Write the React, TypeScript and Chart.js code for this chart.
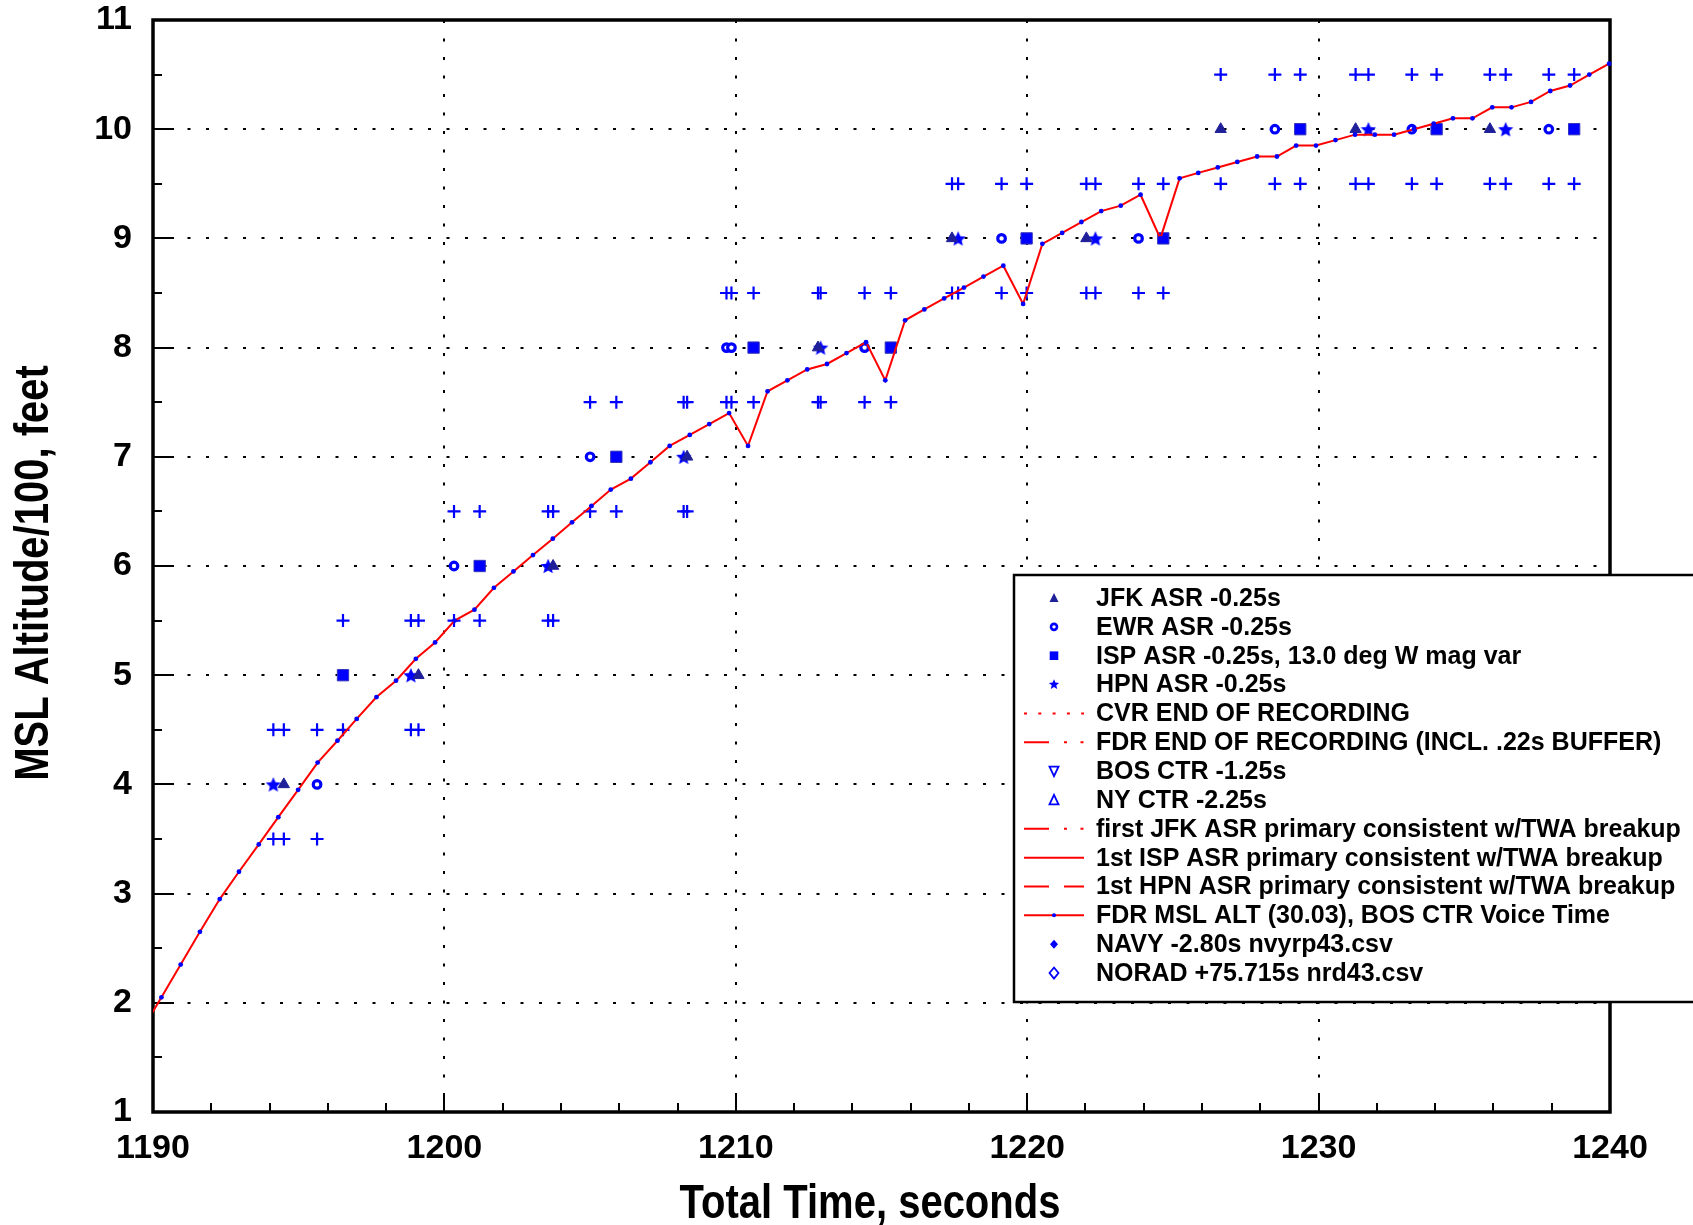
import React, { useEffect, useRef } from "react";
import { Chart, registerables } from "chart.js";

Chart.register(...registerables);

const FONT = '"Liberation Sans", Arial, Helvetica, sans-serif';
const CANVAS_W = 1693;
const CANVAS_H = 1225;

const X_TITLE = "Total Time, seconds";
const Y_TITLE = "MSL Altitude/100, feet";

const X_MIN = 1190;
const X_MAX = 1240;
const X_STEP = 10;
const X_MINOR_STEP = 2;
const Y_MIN = 1;
const Y_MAX = 11;
const Y_STEP = 1;
const Y_MINOR_STEP = 0.5;

// FDR MSL altitude (hundreds of feet) vs total time (s)
const FDR_TIME = [
  1189.62, 1190.29, 1190.95, 1191.61, 1192.29, 1192.95, 1193.63, 1194.3, 1194.98, 1195.65,
  1196.33, 1196.99, 1197.67, 1198.34, 1199.02, 1199.68, 1200.35, 1201.03, 1201.7, 1202.37,
  1203.04, 1203.72, 1204.38, 1205.05, 1205.71, 1206.4, 1207.07, 1207.73, 1208.42, 1209.09,
  1209.77, 1210.42, 1211.09, 1211.77, 1212.45, 1213.13, 1213.8, 1214.47, 1215.13, 1215.81,
  1216.47, 1217.15, 1217.83, 1218.5, 1219.18, 1219.86, 1220.52, 1221.2, 1221.86, 1222.54,
  1223.21, 1223.89, 1224.57, 1225.23, 1225.87, 1226.54, 1227.21, 1227.89, 1228.57, 1229.23,
  1229.91, 1230.58, 1231.25, 1231.93, 1232.59, 1233.27, 1233.95, 1234.61, 1235.28, 1235.96,
  1236.62, 1237.29, 1237.95, 1238.63, 1239.29, 1239.97,
];
const FDR_ALT = [
  1.75, 2.05, 2.35, 2.65, 2.95, 3.2, 3.45, 3.7, 3.95, 4.2,
  4.4, 4.6, 4.8, 4.95, 5.15, 5.3, 5.5, 5.6, 5.8, 5.95,
  6.1, 6.25, 6.4, 6.55, 6.7, 6.8, 6.95, 7.1, 7.2, 7.3,
  7.4, 7.1, 7.6, 7.7, 7.8, 7.85, 7.95, 8.05, 7.7, 8.25,
  8.35, 8.45, 8.55, 8.65, 8.75, 8.4, 8.95, 9.05, 9.15, 9.25,
  9.3, 9.4, 9.0, 9.55, 9.6, 9.65, 9.7, 9.75, 9.75, 9.85,
  9.85, 9.9, 9.95, 9.95, 9.95, 10.0, 10.05, 10.1, 10.1, 10.2,
  10.2, 10.25, 10.35, 10.4, 10.5, 10.6,
];

// Radar Mode C returns
const JFK_TIME = [1194.49, 1199.11, 1203.73, 1208.33, 1212.82, 1217.42, 1222.03, 1226.64, 1231.27, 1235.88];
const JFK_ALT = [4, 5, 6, 7, 8, 9, 9, 10, 10, 10];
const EWR_TIME = [1195.63, 1200.33, 1205.0, 1209.68, 1209.85, 1214.42, 1219.12, 1223.82, 1228.5, 1233.2, 1237.9];
const EWR_ALT = [4, 6, 7, 8, 8, 8, 9, 9, 10, 10, 10];
const ISP_TIME = [1196.52, 1201.21, 1205.9, 1210.61, 1215.32, 1219.98, 1224.67, 1229.37, 1234.05, 1238.77];
const ISP_ALT = [5, 6, 7, 8, 8, 9, 9, 10, 10, 10];
const HPN_TIME = [1194.13, 1198.85, 1203.56, 1208.21, 1212.91, 1217.63, 1222.34, 1231.71, 1236.42];
const HPN_ALT = [4, 5, 6, 7, 8, 9, 9, 10, 10];

// Mode C reports carry a +/- 50 ft band (plotted as + marks)
const MODE_C_HALF_BAND = 0.5;

const LEGEND_LABELS = [
  "JFK ASR -0.25s",
  "EWR ASR -0.25s",
  "ISP ASR -0.25s, 13.0 deg W mag var",
  "HPN ASR -0.25s",
  "CVR END OF RECORDING",
  "FDR END OF RECORDING (INCL. .22s BUFFER)",
  "BOS CTR -1.25s",
  "NY CTR -2.25s",
  "first JFK ASR primary consistent w/TWA breakup",
  "1st ISP ASR primary consistent w/TWA breakup",
  "1st HPN ASR primary consistent w/TWA breakup",
  "FDR MSL ALT (30.03), BOS CTR Voice Time",
  "NAVY -2.80s nvyrp43.csv",
  "NORAD +75.715s nrd43.csv",
];
const LEGEND_SYMBOLS = [
  "triFill", "circleOpen", "squareFill", "starFill", "dotted", "dashDotDot", "triDownOpen",
  "triUpOpen", "dashDotDot", "solid", "dashed", "lineDot", "diamondFill", "diamondOpen",
];

const BLUE = "#0000ff";
const NAVY = "#1f1f99";
const RED = "#ff0000";

function pts(t: number[], v: number[]) {
  return t.map((x, i) => ({ x, y: v[i] }));
}

function starPath(ctx: CanvasRenderingContext2D, cx: number, cy: number, R: number, r: number) {
  ctx.beginPath();
  for (let i = 0; i < 10; i++) {
    const a = -Math.PI / 2 + (i * Math.PI) / 5;
    const rad = i % 2 === 0 ? R : r;
    const px = cx + rad * Math.cos(a);
    const py = cy + rad * Math.sin(a);
    if (i === 0) ctx.moveTo(px, py);
    else ctx.lineTo(px, py);
  }
  ctx.closePath();
}

function makeStarImage(size: number, color: string) {
  const c = document.createElement("canvas");
  c.width = size;
  c.height = size;
  const g = c.getContext("2d") as CanvasRenderingContext2D;
  starPath(g, size / 2, size / 2 + size * 0.05, size / 2, size * 0.23);
  g.fillStyle = color;
  g.fill();
  return c;
}

function hLine(ctx: CanvasRenderingContext2D, x0: number, x1: number, y: number, dash: number[]) {
  ctx.save();
  ctx.strokeStyle = RED;
  ctx.lineWidth = 2;
  ctx.setLineDash(dash);
  ctx.beginPath();
  ctx.moveTo(x0, y);
  ctx.lineTo(x1, y);
  ctx.stroke();
  ctx.restore();
}

function drawSymbol(ctx: CanvasRenderingContext2D, kind: string, cx: number, cy: number, x0: number, x1: number) {
  ctx.save();
  ctx.setLineDash([]);
  switch (kind) {
    case "triFill":
      ctx.fillStyle = NAVY;
      ctx.beginPath();
      ctx.moveTo(cx, cy - 5);
      ctx.lineTo(cx + 4.5, cy + 4);
      ctx.lineTo(cx - 4.5, cy + 4);
      ctx.closePath();
      ctx.fill();
      break;
    case "circleOpen":
      ctx.fillStyle = "#fff";
      ctx.strokeStyle = BLUE;
      ctx.lineWidth = 2.6;
      ctx.beginPath();
      ctx.arc(cx, cy, 3.0, 0, Math.PI * 2);
      ctx.fill();
      ctx.stroke();
      break;
    case "squareFill":
      ctx.fillStyle = BLUE;
      ctx.fillRect(cx - 4.3, cy - 4.3, 8.6, 8.6);
      break;
    case "starFill":
      ctx.fillStyle = BLUE;
      starPath(ctx, cx, cy, 5.4, 2.4);
      ctx.fill();
      break;
    case "dotted":
      hLine(ctx, x0, x1, cy, [3, 11.3]);
      break;
    case "dashDotDot":
      hLine(ctx, x0, x1, cy, [25, 15, 3, 13.5, 3, 40]);
      break;
    case "solid":
      hLine(ctx, x0, x1, cy, []);
      break;
    case "dashed":
      hLine(ctx, x0, x1, cy, [25, 15, 20, 40]);
      break;
    case "lineDot":
      hLine(ctx, x0, x1, cy, []);
      ctx.fillStyle = BLUE;
      ctx.beginPath();
      ctx.arc(cx, cy, 2, 0, Math.PI * 2);
      ctx.fill();
      break;
    case "triDownOpen":
      ctx.strokeStyle = BLUE;
      ctx.lineWidth = 1.8;
      ctx.beginPath();
      ctx.moveTo(cx - 4.5, cy - 4.5);
      ctx.lineTo(cx + 4.5, cy - 4.5);
      ctx.lineTo(cx, cy + 5);
      ctx.closePath();
      ctx.stroke();
      break;
    case "triUpOpen":
      ctx.strokeStyle = BLUE;
      ctx.lineWidth = 1.8;
      ctx.beginPath();
      ctx.moveTo(cx, cy - 5);
      ctx.lineTo(cx + 4.5, cy + 4.5);
      ctx.lineTo(cx - 4.5, cy + 4.5);
      ctx.closePath();
      ctx.stroke();
      break;
    case "diamondFill":
      ctx.fillStyle = BLUE;
      ctx.beginPath();
      ctx.moveTo(cx, cy - 4.5);
      ctx.lineTo(cx + 4, cy);
      ctx.lineTo(cx, cy + 4.5);
      ctx.lineTo(cx - 4, cy);
      ctx.closePath();
      ctx.fill();
      break;
    case "diamondOpen":
      ctx.strokeStyle = BLUE;
      ctx.lineWidth = 1.8;
      ctx.beginPath();
      ctx.moveTo(cx, cy - 5.5);
      ctx.lineTo(cx + 4.5, cy);
      ctx.lineTo(cx, cy + 5.5);
      ctx.lineTo(cx - 4.5, cy);
      ctx.closePath();
      ctx.stroke();
      break;
  }
  ctx.restore();
}

const decorPlugin = {
  id: "decor",
  beforeDraw(chart: any) {
    const ctx = chart.ctx as CanvasRenderingContext2D;
    ctx.save();
    ctx.fillStyle = "#fff";
    ctx.fillRect(0, 0, chart.width, chart.height);
    ctx.restore();
  },
  beforeDatasetsDraw(chart: any) {
    const ctx = chart.ctx as CanvasRenderingContext2D;
    const a = chart.chartArea;
    const xs = chart.scales.x;
    const ys = chart.scales.y;
    ctx.save();
    ctx.strokeStyle = "#000";
    // dotted grid
    ctx.lineWidth = 2;
    ctx.setLineDash([3, 15.5]);
    const nx = Math.round((X_MAX - X_MIN) / X_STEP);
    for (let i = 1; i < nx; i++) {
      const px = Math.round(xs.getPixelForValue(X_MIN + i * X_STEP));
      ctx.beginPath();
      ctx.moveTo(px, a.top);
      ctx.lineTo(px, a.bottom);
      ctx.stroke();
    }
    const ny = Math.round((Y_MAX - Y_MIN) / Y_STEP);
    ctx.lineDashOffset = -16;
    for (let i = 1; i < ny; i++) {
      const py = Math.round(ys.getPixelForValue(Y_MIN + i * Y_STEP));
      ctx.beginPath();
      ctx.moveTo(a.left, py);
      ctx.lineTo(a.right, py);
      ctx.stroke();
    }
    ctx.setLineDash([]);
    ctx.lineDashOffset = 0;
    // inward ticks
    ctx.lineWidth = 2;
    const nxm = Math.round((X_MAX - X_MIN) / X_MINOR_STEP);
    for (let i = 1; i < nxm; i++) {
      const v = X_MIN + i * X_MINOR_STEP;
      const major = Math.abs((v - X_MIN) % X_STEP) < 1e-6;
      const px = Math.round(xs.getPixelForValue(v));
      ctx.beginPath();
      ctx.moveTo(px, a.bottom);
      ctx.lineTo(px, a.bottom - (major ? 19 : 9));
      ctx.stroke();
    }
    const nym = Math.round((Y_MAX - Y_MIN) / Y_MINOR_STEP);
    for (let i = 1; i < nym; i++) {
      const v = Y_MIN + i * Y_MINOR_STEP;
      const major = i % 2 === 0;
      const py = Math.round(ys.getPixelForValue(v));
      ctx.beginPath();
      ctx.moveTo(a.left, py);
      ctx.lineTo(a.left + (major ? 21 : 9), py);
      ctx.stroke();
    }
    // frame
    ctx.lineWidth = 3.5;
    ctx.strokeRect(a.left, a.top, a.right - a.left, a.bottom - a.top);
    ctx.restore();
  },
  afterDraw(chart: any) {
    const ctx = chart.ctx as CanvasRenderingContext2D;
    const a = chart.chartArea;
    // axis titles
    ctx.save();
    ctx.fillStyle = "#000";
    ctx.font = `bold 40px ${FONT}`;
    ctx.textAlign = "center";
    ctx.textBaseline = "alphabetic";
    ctx.translate(870, 1218);
    ctx.scale(1, 1.18);
    ctx.fillText(X_TITLE, 0, 0);
    ctx.restore();

    ctx.save();
    ctx.fillStyle = "#000";
    ctx.font = `bold 40px ${FONT}`;
    ctx.textAlign = "center";
    ctx.textBaseline = "alphabetic";
    ctx.translate(48, (a.top + a.bottom) / 2 + 7);
    ctx.rotate(-Math.PI / 2);
    ctx.scale(1, 1.18);
    ctx.fillText(Y_TITLE, 0, 0);
    ctx.restore();

    // legend box
    const LX = 1014;
    const LT = 575;
    const LB = 1002;
    const ROW0 = 598;
    const ROWH = 28.85;
    ctx.save();
    ctx.fillStyle = "#fff";
    ctx.fillRect(LX, LT, CANVAS_W - LX + 10, LB - LT);
    ctx.strokeStyle = "#000";
    ctx.lineWidth = 2.5;
    ctx.strokeRect(LX, LT, CANVAS_W - LX + 20, LB - LT);
    ctx.font = `bold 25px ${FONT}`;
    ctx.textAlign = "left";
    ctx.textBaseline = "middle";
    ctx.fillStyle = "#000";
    LEGEND_LABELS.forEach((label, i) => {
      const cy = ROW0 + i * ROWH;
      drawSymbol(ctx, LEGEND_SYMBOLS[i], 1054, cy, 1024, 1084);
      ctx.fillStyle = "#000";
      ctx.fillText(label, 1096, cy + 1);
    });
    ctx.restore();
  },
};

function zeroScalePadding(s: any) {
  s.paddingTop = 0;
  s.paddingBottom = 0;
  s.paddingLeft = 0;
  s.paddingRight = 0;
}

export default function App() {
  const canvasRef = useRef<HTMLCanvasElement | null>(null);

  useEffect(() => {
    const canvas = canvasRef.current;
    if (!canvas) return;
    const starImg = makeStarImage(16, BLUE);

    const jfk = pts(JFK_TIME, JFK_ALT);
    const ewr = pts(EWR_TIME, EWR_ALT);
    const isp = pts(ISP_TIME, ISP_ALT);
    const hpn = pts(HPN_TIME, HPN_ALT);
    const allRadar = [...jfk, ...ewr, ...isp, ...hpn];
    const bands = allRadar.flatMap((p) => [
      { x: p.x, y: p.y + MODE_C_HALF_BAND },
      { x: p.x, y: p.y - MODE_C_HALF_BAND },
    ]);

    const tickFont = { family: FONT, size: 34, weight: "bold" as const, lineHeight: 1 };

    const chart = new Chart(canvas, {
      type: "scatter",
      data: {
        datasets: [
          {
            label: "FDR MSL ALT (30.03), BOS CTR Voice Time",
            data: pts(FDR_TIME, FDR_ALT),
            showLine: true,
            borderColor: RED,
            borderWidth: 2,
            pointStyle: "circle",
            pointRadius: 2.4,
            pointBackgroundColor: BLUE,
            pointBorderColor: BLUE,
            pointBorderWidth: 0,
            clip: { left: 0, top: 8, right: 8, bottom: 8 },
          } as any,
          {
            label: "JFK ASR -0.25s",
            data: jfk,
            pointStyle: "triangle",
            pointRadius: 6.5,
            pointBackgroundColor: NAVY,
            pointBorderColor: NAVY,
            pointBorderWidth: 1,
          },
          {
            label: "HPN ASR -0.25s",
            data: hpn,
            pointStyle: starImg as any,
            pointRadius: 7,
          },
          {
            label: "EWR ASR -0.25s",
            data: ewr,
            pointStyle: "circle",
            pointRadius: 3.8,
            pointBackgroundColor: "#ffffff",
            pointBorderColor: BLUE,
            pointBorderWidth: 3.2,
          },
          {
            label: "ISP ASR -0.25s, 13.0 deg W mag var",
            data: isp,
            pointStyle: "rect",
            pointRadius: 8,
            pointBackgroundColor: BLUE,
            pointBorderColor: "#3333bb",
            pointBorderWidth: 1,
          },
          {
            label: "Mode C band",
            data: bands,
            pointStyle: "cross",
            pointRadius: 6.5,
            pointBorderColor: BLUE,
            pointBorderWidth: 2.2,
          },
        ],
      },
      options: {
        animation: false,
        responsive: false,
        devicePixelRatio: 1,
        events: [],
        layout: { padding: { left: 0, right: 83, top: 20, bottom: 0 } },
        plugins: {
          legend: { display: false },
          tooltip: { enabled: false },
          title: { display: false },
        },
        scales: {
          x: {
            type: "linear",
            min: X_MIN,
            max: X_MAX,
            afterFit: (s: any) => {
              s.height = 113;
              zeroScalePadding(s);
            },
            ticks: {
              stepSize: X_STEP,
              color: "#000",
              font: tickFont,
              padding: 20,
              maxRotation: 0,
              autoSkip: false,
              callback: (v: any) => String(v),
            },
            grid: { display: false, drawTicks: false },
            border: { display: false },
          },
          y: {
            type: "linear",
            min: Y_MIN,
            max: Y_MAX,
            afterFit: (s: any) => {
              s.width = 153;
              zeroScalePadding(s);
            },
            ticks: {
              stepSize: Y_STEP,
              color: "#000",
              font: tickFont,
              padding: 21,
              autoSkip: false,
              callback: (v: any) => String(v),
            },
            grid: { display: false, drawTicks: false },
            border: { display: false },
          },
        },
      },
      plugins: [decorPlugin],
    });

    return () => {
      chart.destroy();
    };
  }, []);

  return (
    <div
      style={{
        position: "absolute",
        left: 0,
        top: 0,
        width: CANVAS_W,
        height: CANVAS_H,
        background: "#fff",
      }}
    >
      <canvas
        ref={canvasRef}
        width={CANVAS_W}
        height={CANVAS_H}
        style={{ display: "block", width: CANVAS_W, height: CANVAS_H }}
      />
    </div>
  );
}
